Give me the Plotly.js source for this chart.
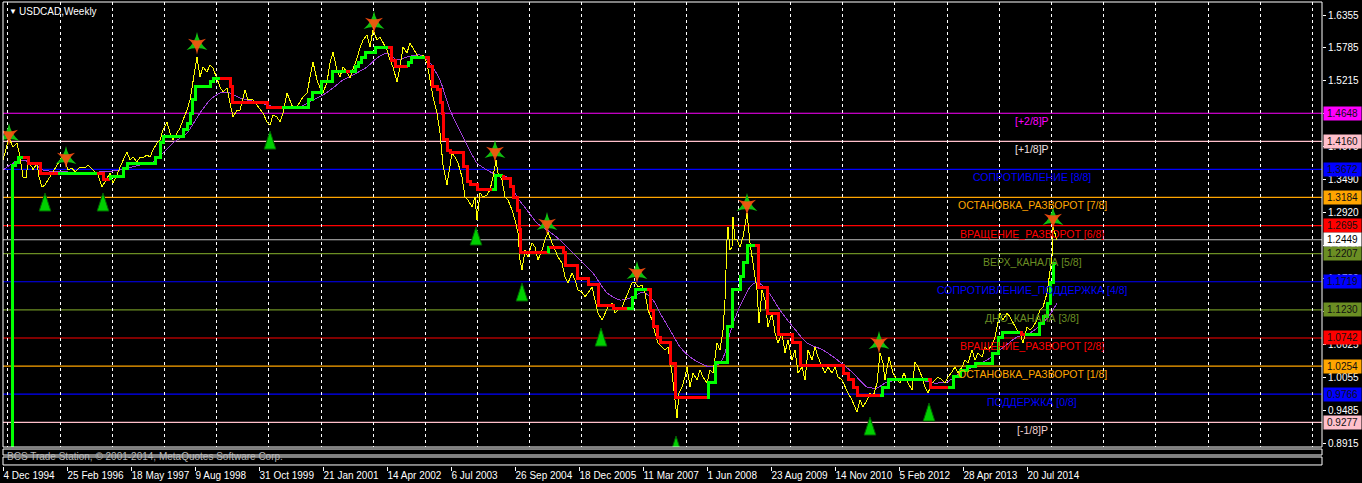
<!DOCTYPE html>
<html><head><meta charset="utf-8">
<script src="https://cdn.plot.ly/plotly-3.0.1.min.js"></script>
<style>html,body{margin:0;padding:0;background:#000;overflow:hidden}#chart{width:1362px;height:483px}
#chart .gridlayer path,#chart .js-line{shape-rendering:crispEdges}</style>
</head><body><div id="chart"></div>
<script>
// ---------- DATA ----------
const chartTitle = 'USDCAD,Weekly';
const copyrightText = 'BCS Trade Station, © 2001-2014, MetaQuotes Software Corp.';
const firstBarDate = [1994, 11, 4]; // 4 Dec 1994 = week 0
const timeTickWeeks = [0,64,128,192,256,320,384,448,512,576,640,704,768,832,896,960,1024];
const timeTickLabels = ['4 Dec 1994','25 Feb 1996','18 May 1997','9 Aug 1998','31 Oct 1999','21 Jan 2001','14 Apr 2002','6 Jul 2003','26 Sep 2004','18 Dec 2005','11 Mar 2007','1 Jun 2008','23 Aug 2009','14 Nov 2010','5 Feb 2012','28 Apr 2013','20 Jul 2014'];
const priceTicks = [1.6355,1.5785,1.5215,1.4645,1.4075,1.3490,1.2920,1.2350,1.1780,1.1210,1.0625,1.0055,0.9485,0.8915];

// weekly close (week index since 4 Dec 1994)
const closeWeek = [
0,6,10,14,17,20,23,25,29,30,
34,36,39,42,45,49,52,55,59,62,
65,69,72,77,82,85,90,95,99,102,
107,110,114,117,120,124,127,130,134,137,
140,144,147,150,154,157,160,164,167,170,
174,177,180,184,187,190,194,197,200,204,
207,210,214,217,220,224,227,230,234,237,
242,245,250,255,260,264,267,270,274,277,
280,284,287,290,294,297,300,304,307,310,
314,317,320,324,327,330,334,337,340,344,
347,350,354,357,360,364,367,370,374,377,
380,384,387,390,394,397,400,404,407,410,
414,417,420,424,427,430,434,437,440,444,
449,452,455,459,462,465,469,472,474,477,
480,484,487,490,493,495,499,502,505,509,
512,515,517,519,522,525,529,532,535,539,
542,545,549,552,555,559,562,565,569,572,
575,579,582,585,589,592,595,599,602,605,
609,612,615,619,622,625,629,632,635,639,
642,645,649,652,655,659,662,665,669,672,
674,676,679,682,684,687,690,694,697,700,
704,707,710,714,717,720,722,724,725,727,
729,730,732,734,737,740,744,747,750,754,
756,759,762,765,769,772,775,779,782,785,
789,792,795,799,802,805,809,812,815,819,
822,825,829,832,835,839,842,845,849,852,
854,857,860,864,867,870,874,877,880,882,
884,886,890,894,897,901,905,909,912,915,
919,922,925,929,932,935,939,942,945,949,
952,955,959,962,965,969,972,975,979,982,
985,989,992,995,997,1000,1004,1007,1010,1014,
1017,1020,1024,1027,1030,1034,1037,1040,1044,1046,
1049,1050,1052,1054];
const closePrice = [
1.3835,1.4218,1.4061,1.4131,1.3887,1.3540,1.3522,1.3783,1.3714,1.3661,
1.3783,1.3540,1.3366,1.3401,1.3488,1.3609,1.3696,1.3783,1.3887,1.3835,
1.3661,1.3696,1.3627,1.3714,1.3696,1.3748,1.3661,1.3574,1.3366,1.3453,
1.3609,1.3436,1.3574,1.3714,1.3835,1.3974,1.3835,1.3887,1.3800,1.3887,
1.3870,1.3922,1.3887,1.4009,1.4131,1.4183,1.4357,1.4496,1.4304,1.4183,
1.4304,1.4391,1.4530,1.4704,1.4878,1.5173,1.5625,1.5278,1.5452,1.5365,
1.5486,1.5434,1.5226,1.5104,1.5017,1.5087,1.4826,1.4583,1.4704,1.4704,
1.5052,1.4878,1.4878,1.4756,1.4652,1.4496,1.4444,1.4617,1.4583,1.4496,
1.4652,1.5000,1.4878,1.4739,1.4756,1.4843,1.4931,1.5000,1.5278,1.5538,
1.5226,1.5087,1.5000,1.5191,1.5521,1.5712,1.5399,1.5278,1.5452,1.5365,
1.5260,1.5399,1.5608,1.5782,1.5921,1.6008,1.5799,1.6095,1.5921,1.5973,
1.5869,1.5747,1.5573,1.5452,1.5191,1.5452,1.5799,1.5695,1.5869,1.5782,
1.5660,1.5608,1.5660,1.5521,1.5226,1.4931,1.4652,1.4304,1.3748,1.3401,
1.3957,1.3887,1.3783,1.3540,1.3192,1.3140,1.3018,1.3192,1.2792,1.3262,
1.3192,1.3227,1.3314,1.3540,1.3835,1.3609,1.3488,1.3192,1.3140,1.2966,
1.2792,1.2567,1.2097,1.1923,1.2271,1.2149,1.2393,1.2323,1.2097,1.2271,
1.2445,1.2584,1.2393,1.2271,1.2149,1.2045,1.1802,1.1698,1.1871,1.1750,
1.1576,1.1541,1.1454,1.1524,1.1628,1.1402,1.1176,1.1054,1.1176,1.1280,
1.1350,1.1176,1.1228,1.1280,1.1402,1.1541,1.1698,1.1715,1.1628,1.1663,
1.1524,1.1228,1.1054,1.0829,1.0655,1.0585,1.0533,1.0585,1.0133,0.9664,
0.9351,0.9786,0.9890,1.0064,1.0238,0.9890,1.0133,1.0012,1.0185,1.0064,
0.9960,1.0185,1.0133,1.0655,1.0533,1.0881,1.1402,1.2445,1.2671,1.2271,
1.2323,1.2845,1.2445,1.2445,1.2323,1.2497,1.2914,1.2393,1.2045,1.1576,
1.1002,1.1576,1.1402,1.0933,1.1176,1.0829,1.0655,1.0829,1.0481,1.0707,
1.0359,1.0533,1.0133,1.0238,1.0012,1.0533,1.0359,1.0585,1.0411,1.0238,
1.0133,1.0238,1.0133,1.0238,1.0064,1.0012,0.9890,0.9786,0.9664,0.9542,
0.9455,0.9664,0.9542,0.9664,0.9786,0.9716,0.9960,1.0481,1.0307,1.0012,
1.0238,1.0411,1.0133,1.0012,0.9960,1.0133,0.9960,0.9838,1.0324,1.0238,
1.0064,0.9890,0.9786,0.9960,1.0012,1.0064,1.0012,0.9960,1.0064,1.0151,
1.0238,1.0133,1.0238,1.0359,1.0307,1.0533,1.0359,1.0481,1.0411,1.0585,
1.0533,1.0620,1.0759,1.1002,1.1176,1.1054,1.1176,1.1107,1.1002,1.0881,
1.0829,1.0655,1.0933,1.0881,1.0933,1.1054,1.1228,1.1280,1.1524,1.1750,
1.2149,1.2671,1.2567,1.2445];

// moving average (purple)
const maWeek = [
0,7,17,30,40,64,97,117,137,150,
160,170,184,197,207,217,227,237,257,277,
297,310,320,330,340,350,364,374,384,394,
404,417,427,437,447,460,474,484,494,504,
514,524,534,544,557,567,580,590,604,617,
630,640,650,657,667,677,687,697,707,717,
722,727,734,740,747,754,764,777,790,804,
820,837,850,864,874,884,897,914,930,944,
957,970,984,997,1014,1027,1040,1050,1054];
const maValue = [
1.3661,1.3748,1.3835,1.3783,1.3661,1.3627,1.3627,1.3661,1.3748,1.3800,
1.3957,1.4131,1.4304,1.4652,1.4878,1.5000,1.5000,1.4913,1.4826,1.4739,
1.4756,1.4878,1.4965,1.5087,1.5226,1.5313,1.5452,1.5608,1.5695,1.5573,
1.5625,1.5660,1.5521,1.5226,1.4704,1.4235,1.3783,1.3661,1.3574,1.3540,
1.3192,1.2966,1.2740,1.2619,1.2445,1.2271,1.2045,1.1871,1.1524,1.1402,
1.1454,1.1541,1.1402,1.1176,1.0881,1.0585,1.0411,1.0307,1.0238,1.0307,
1.0481,1.0829,1.1176,1.1402,1.1628,1.1715,1.1576,1.1228,1.0933,1.0655,
1.0533,1.0324,1.0133,0.9890,0.9873,0.9977,1.0012,1.0029,0.9960,0.9977,
1.0133,1.0238,1.0359,1.0533,1.0759,1.0829,1.1002,1.1228,1.1350];

// trend step line: level and direction (1 = up/green, -1 = down/red)
const stepWeek = [
8,9,12,15,20,25,37,55,94,100,
107,120,124,152,157,160,180,184,187,189,
192,207,210,217,227,229,264,267,279,305,
309,318,329,343,347,352,355,358,362,372,
385,388,392,405,408,422,425,429,434,437,
439,440,444,447,460,464,467,474,489,492,
500,507,510,514,516,517,545,547,560,562,
574,585,595,610,624,629,632,644,647,650,
654,657,667,672,704,705,712,724,729,737,
740,744,752,755,764,775,789,797,840,845,
850,854,877,879,885,925,927,945,950,957,
964,972,989,995,999,1017,1018,1022,1036,1040,
1044,1047,1050,1053];
const stepLevel = [
0,1.3748,1.3800,1.3870,1.3870,1.3783,1.3609,1.3609,1.3609,1.3488,
1.3540,1.3696,1.3783,1.3887,1.4131,1.4235,1.4357,1.4478,1.4652,1.4878,
1.5104,1.5191,1.5260,1.5260,1.5104,1.4826,1.4756,1.4739,1.4739,1.4878,
1.5000,1.5191,1.5365,1.5365,1.5365,1.5452,1.5521,1.5608,1.5695,1.5782,
1.5782,1.5573,1.5452,1.5521,1.5625,1.5625,1.5452,1.5104,1.5052,1.4826,
1.4652,1.4183,1.4009,1.3957,1.3714,1.3453,1.3401,1.3314,1.3314,1.3574,
1.3522,1.3366,1.3192,1.2966,1.2619,1.2219,1.2306,1.2323,1.2219,1.2010,
1.1784,1.1663,1.1315,1.1263,1.1263,1.1437,1.1576,1.1576,1.1228,1.0933,
1.0759,1.0672,1.0307,0.9716,0.9716,0.9960,1.0324,1.0933,1.1576,1.1802,
1.2062,1.2358,1.2358,1.1628,1.1176,1.0794,1.0655,1.0272,1.0133,1.0012,
0.9890,0.9734,0.9734,0.9873,1.0012,1.0012,0.9890,0.9890,1.0064,1.0185,
1.0238,1.0307,1.0481,1.0759,1.0846,1.0846,1.0794,1.0794,1.1002,1.1107,
1.1350,1.1698,1.2045,1.2045];
const stepDir = [
1,1,1,1,-1,-1,-1,1,-1,-1,
1,1,1,1,1,1,1,1,1,1,
1,1,1,-1,-1,-1,-1,-1,1,1,
1,1,1,-1,1,1,1,1,1,1,
-1,-1,-1,1,1,-1,-1,-1,-1,-1,
-1,-1,-1,-1,-1,-1,-1,-1,1,1,
-1,-1,-1,-1,-1,-1,1,-1,-1,-1,
-1,-1,-1,-1,1,1,1,-1,-1,-1,
-1,-1,-1,-1,1,1,1,1,1,1,
1,1,-1,-1,-1,-1,-1,-1,-1,-1,
-1,-1,1,1,1,-1,-1,1,1,1,
1,1,1,1,1,-1,-1,1,1,1,
1,1,1,1];

// swing markers
const topWeek = [6,63,194,371,492,544,634,744,876,1050];
const topPrice = [1.4270,1.3870,1.5851,1.6216,1.3974,1.2723,1.1871,1.3053,1.0655,1.2810];
const bottomWeek = [42,100,267,473,519,598,673,867,926];
const bottomPrice = [1.3262,1.3262,1.4339,1.2671,1.1698,1.0915,0.9038,0.9369,0.9612];

// Murrey math levels
const levelValues = [1.4648,1.4160,1.3672,1.3184,1.2695,1.2207,1.1719,1.1230,1.0742,1.0254,0.9766,0.9277];
const levelNames = ['[+2/8]P','[+1/8]P','СОПРОТИВЛЕНИЕ [8/8]','ОСТАНОВКА_РАЗВОРОТ [7/8]','ВРАЩЕНИЕ_РАЗВОРОТ [6/8]','ВЕРХ_КАНАЛА [5/8]','СОПРОТИВЛЕНИЕ_ПОДДЕРЖКА [4/8]','ДНО_КАНАЛА [3/8]','ВРАЩЕНИЕ_РАЗВОРОТ [2/8]','ОСТАНОВКА_РАЗВОРОТ [1/8]','ПОДДЕРЖКА [0/8]','[-1/8]P'];
const levelColors = ['#FF00FF','#FFC0CB','#0000FF','#FFA500','#FF0000','#6B8E23','#0000FF','#6B8E23','#FF0000','#FFA500','#0000FF','#FFC0CB'];
const levelTextColors = ['#FF00FF','#F0E0E0','#0000FF','#FFA500','#FF0000','#6B8E23','#0000FF','#6B8E23','#FF0000','#FFA500','#0000FF','#F0D0D0'];
const bidPrice = 1.2449;

// ---------- STYLE / LAYOUT ----------
const FONT = 'Liberation Sans, Arial, sans-serif';
const LABEL_WEEK = 1029;         // centre of level captions
const MAIN_BOTTOM = 0.0409;      // main window bottom (paper)
const SUB1 = [0.0237, 0.0366];
const SUB2 = [0.0022, 0.0194];

// year-start grid (first weekly bar of every year)
const t0 = Date.UTC(firstBarDate[0], firstBarDate[1], firstBarDate[2]);
const gridWeeks = [];
for (let y = 1995; y <= 2020; y++) {
  gridWeeks.push(Math.ceil((Date.UTC(y, 0, 1) - t0) / 86400000 / 7));
}

function stepTraces() {
  const out = [];
  let a = 0;
  while (a < stepWeek.length) {
    let b = a;
    while (b + 1 < stepWeek.length && stepDir[b + 1] === stepDir[a]) b++;
    const xs = [], ys = [];
    if (a > 0) { xs.push(stepWeek[a]); ys.push(stepLevel[a - 1]); }
    for (let i = a; i <= b; i++) { xs.push(stepWeek[i]); ys.push(stepLevel[i]); }
    if (b + 1 < stepWeek.length) { xs.push(stepWeek[b + 1]); ys.push(stepLevel[b]); }
    out.push({x: xs, y: ys, type: 'scatter', mode: 'lines',
      line: {shape: 'hv', color: stepDir[a] > 0 ? '#00FF00' : '#FF0000', width: 3},
      hoverinfo: 'skip', showlegend: false});
    a = b + 1;
  }
  return out;
}

const traces = [
  {x: maWeek, y: maValue, type: 'scatter', mode: 'lines',
   line: {color: '#A040D8', width: 1, shape: 'spline', smoothing: 0.6}, hoverinfo: 'skip', showlegend: false},
  {x: closeWeek, y: closePrice, type: 'scatter', mode: 'lines',
   line: {color: '#FFFF00', width: 1}, hoverinfo: 'skip', showlegend: false},
  ...stepTraces(),
  {x: topWeek, y: topPrice, type: 'scatter', mode: 'markers',
   marker: {symbol: 'star-triangle-up', size: 15, color: '#10C010', line: {width: 0}}, hoverinfo: 'skip', showlegend: false},
  {x: topWeek, y: topPrice, type: 'scatter', mode: 'markers',
   marker: {symbol: 'star-triangle-down', size: 13, color: '#FF5010', opacity: 0.9, line: {width: 0}}, hoverinfo: 'skip', showlegend: false},
  {x: bottomWeek, y: bottomPrice, type: 'scatter', mode: 'markers',
   marker: {symbol: 'arrow', size: 19, color: '#00D000', line: {width: 1, color: '#006000'}}, hoverinfo: 'skip', showlegend: false}
];

const shapes = [];
levelValues.forEach((v, i) => shapes.push({type: 'line', xref: 'paper', x0: 0, x1: 1, yref: 'y', y0: v, y1: v,
  line: {color: levelColors[i], width: 1.2}, layer: 'between'}));
shapes.push({type: 'line', xref: 'paper', x0: 0, x1: 1, yref: 'y', y0: bidPrice, y1: bidPrice,
  line: {color: '#C0C0C0', width: 1}, layer: 'between'});
shapes.push({type: 'rect', xref: 'paper', yref: 'paper', x0: 0, x1: 1, y0: MAIN_BOTTOM, y1: 1, line: {color: '#FFFFFF', width: 1}});
shapes.push({type: 'rect', xref: 'paper', yref: 'paper', x0: 0, x1: 1, y0: SUB1[0], y1: SUB1[1], line: {color: '#FFFFFF', width: 1}});
shapes.push({type: 'rect', xref: 'paper', yref: 'paper', x0: 0, x1: 1, y0: SUB2[0], y1: SUB2[1], line: {color: '#FFFFFF', width: 1}});

const annotations = [];
annotations.push({xref: 'paper', yref: 'paper', x: 0, y: 1, xanchor: 'left', yanchor: 'top', xshift: 4, yshift: -3,
  text: '▼', showarrow: false, font: {family: FONT, size: 8, color: '#FFFFFF'}});
annotations.push({xref: 'paper', yref: 'paper', x: 0, y: 1, xanchor: 'left', yanchor: 'top', xshift: 14, yshift: -2,
  text: chartTitle, showarrow: false, font: {family: FONT, size: 10, color: '#FFFFFF'}});
annotations.push({xref: 'paper', yref: 'paper', x: 0, y: (SUB1[0] + SUB2[1]) / 2, xanchor: 'left', yanchor: 'middle', xshift: 2,
  text: copyrightText, showarrow: false, font: {family: FONT, size: 10, color: '#B8B8B8'}});
levelValues.forEach((v, i) => {
  annotations.push({xref: 'x', yref: 'y', x: LABEL_WEEK, y: v, xanchor: 'center', yanchor: 'middle', yshift: -8,
    text: levelNames[i], showarrow: false, font: {family: FONT, size: 10.5, color: levelTextColors[i]}});
  annotations.push({xref: 'paper', yref: 'y', x: 1, y: v, xanchor: 'left', yanchor: 'middle', xshift: 1,
    text: v.toFixed(4), showarrow: false, bgcolor: levelColors[i], width: 35, height: 11, borderpad: 1,
    font: {family: FONT, size: 10, color: '#101010'}});
});
annotations.push({xref: 'paper', yref: 'y', x: 1, y: bidPrice, xanchor: 'left', yanchor: 'middle', xshift: 1,
  text: bidPrice.toFixed(4), showarrow: false, bgcolor: '#FFFFFF', width: 35, height: 11, borderpad: 1,
  font: {family: FONT, size: 10, color: '#000000'}});

const layout = {
  width: 1362, height: 483,
  paper_bgcolor: '#000000', plot_bgcolor: '#000000',
  margin: {l: 3, r: 40, t: 2, b: 17},
  showlegend: false, hovermode: false,
  xaxis: {
    range: [0, 1319], anchor: 'free', position: 0,
    tickmode: 'array', tickvals: timeTickWeeks, ticktext: timeTickLabels,
    ticks: 'outside', ticklen: 4, tickcolor: '#FFFFFF', tickwidth: 1,
    tickangle: 0, automargin: false,
    ticklabelposition: 'outside right',
    tickfont: {family: FONT, size: 10, color: '#FFFFFF'},
    showgrid: false, zeroline: false, showline: false,
    minor: {tickmode: 'array', tickvals: gridWeeks, ticks: '', showgrid: true,
            gridcolor: '#FFFFFF', gridwidth: 1, griddash: '3px,3px'}
  },
  yaxis: {
    domain: [MAIN_BOTTOM, 1], range: [0.8847, 1.6581], side: 'right', anchor: 'x',
    tickmode: 'array', tickvals: priceTicks, ticktext: priceTicks.map(v => v.toFixed(4)),
    ticks: 'outside', ticklen: 3, tickcolor: '#FFFFFF', automargin: false,
    tickfont: {family: FONT, size: 10, color: '#FFFFFF'},
    showgrid: false, zeroline: false, showline: false
  },
  shapes: shapes,
  annotations: annotations
};

Plotly.newPlot('chart', traces, layout, {displayModeBar: false, staticPlot: true});
</script>
</body></html>
